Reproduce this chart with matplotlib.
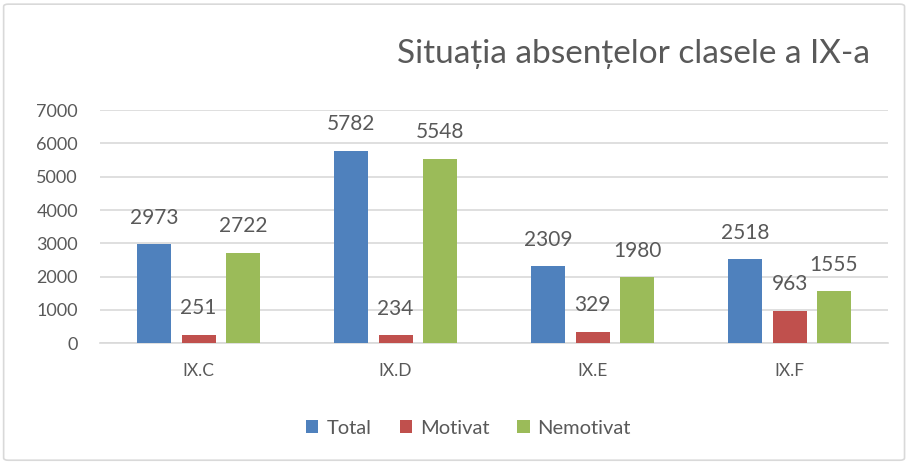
import matplotlib
matplotlib.use("Agg")
import matplotlib.pyplot as plt
import numpy as np
from matplotlib.patches import FancyBboxPatch

categories = ["IX.C", "IX.D", "IX.E", "IX.F"]
total = [2973, 5782, 2309, 2518]
motivat = [251, 234, 329, 963]
nemotivat = [2722, 5548, 1980, 1555]
series_names = ["Total", "Motivat", "Nemotivat"]
colors = ["#4F81BD", "#C0504D", "#9BBB59"]
title = "Situația absențelor clasele a IX-a"
yticks = [0, 1000, 2000, 3000, 4000, 5000, 6000, 7000]

plt.rcParams['font.family'] = ['Lato', 'DejaVu Sans']
txt = "#595959"

fig = plt.figure(figsize=(9.10, 4.63), dpi=100)
ax = fig.add_axes([0.110, 0.259, 0.866, 0.503])

x = np.arange(len(categories))
w = 0.173
offs = [-0.225, 0, 0.225]
for data, name, c, o in zip([total, motivat, nemotivat], series_names, colors, offs):
    bars = ax.bar(x + o, data, w, color=c, label=name, zorder=3)
    for b, v in zip(bars, data):
        ax.annotate(str(v), (b.get_x() + b.get_width() / 2, v), xytext=(0, 12),
                    textcoords="offset points", ha="center", va="bottom",
                    fontsize=15, color=txt)

ax.set_xlim(-0.5, len(categories) - 0.5)
ax.set_ylim(0, 7000)
ax.set_yticks(yticks)
ax.set_yticklabels([str(t) for t in yticks], fontsize=13, color=txt)
ax.set_xticks(x)
ax.set_xticklabels(categories, fontsize=12.5, color=txt)
ax.tick_params(axis='both', length=0)
ax.tick_params(axis='x', pad=14)
ax.tick_params(axis='y', pad=16)
ax.grid(axis='y', color="#D9D9D9", linewidth=1.2, zorder=0)
for s in ["top", "right", "left"]:
    ax.spines[s].set_visible(False)
ax.spines["bottom"].set_color("#D9D9D9")
ax.spines["bottom"].set_linewidth(1.2)

fig.text(0.956, 0.883, title, ha="right", va="center", fontsize=24, color=txt)

leg = fig.legend(loc="center", bbox_to_anchor=(0.515, 0.075), ncol=3, frameon=False,
                 fontsize=14.5, handlelength=0.6, handleheight=0.6, handletextpad=0.4,
                 columnspacing=1.4, labelcolor=txt)

border = FancyBboxPatch((0.004, 0.006), 0.99, 0.985, boxstyle="round,pad=0,rounding_size=0.005",
                        transform=fig.transFigure, fill=False, edgecolor="#D9D9D9", linewidth=1.2)
fig.patches.append(border)

fig.savefig("out.png", dpi=100)
